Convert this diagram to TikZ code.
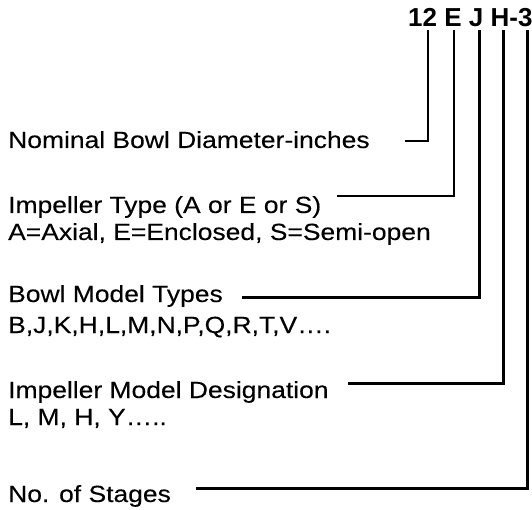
\documentclass[tikz,border=0pt]{standalone}
\usepackage{fontspec}
\setmainfont{Liberation Sans}
\newfontfamily\lblfont[FakeStretch=1.13, FakeBold=0.2]{Liberation Sans}
\usetikzlibrary{positioning}

\begin{document}
\begin{tikzpicture}[
  x=1pt, y=-1pt,
  lbl/.style={font=\lblfont\fontsize{23.4}{27}\selectfont, inner sep=0pt, anchor=base west},
  code/.style={font=\bfseries\fontsize{26}{30}\selectfont, inner sep=0pt, anchor=base west},
  lead/.style={line width=3pt},
  leadthin/.style={line width=2pt},
]
\useasboundingbox (0,0) rectangle (532,510);

% model code
\node[code] (code) at (408,26.5) {12 E J H-3};

% descriptions
\node[lbl] (dia) at (8,148) {Nominal Bowl Diameter-inches};
\node[lbl] (imp) at (8,213) {Impeller Type (A or E or S)};
\node[lbl, below=27pt of imp.base west, anchor=base west] (impkey) {A=Axial, E=Enclosed, S=Semi-open};
\node[lbl] (bowl) at (8,302) {Bowl Model Types};
\node[lbl, below=31pt of bowl.base west, anchor=base west] (bowlkey) {B,J,K,H,L,M,N,P,Q,R,T,V\dots.};
\node[lbl] (des) at (8,398) {Impeller Model Designation};
\node[lbl, below=27pt of des.base west, anchor=base west] (deskey) {L, M, H, Y\dots..};
\node[lbl] (stg) at (8,502) {No. of Stages};

% leader lines from the code down to each description
\coordinate (t12) at (428,30);  \coordinate (e12) at (405,141);
\coordinate (tE)  at (454,30);  \coordinate (eE)  at (337,196);
\coordinate (tJ)  at (479,30);  \coordinate (eJ)  at (242,297);
\coordinate (tH)  at (503,30);  \coordinate (eH)  at (348,383);
\coordinate (t3)  at (527,30);  \coordinate (e3)  at (196,488);

\foreach \a/\b in {t12/e12, tE/eE}
  \draw[leadthin] (\a) |- (\b);
\foreach \a/\b in {tJ/eJ, tH/eH, t3/e3}
  \draw[lead] (\a) |- (\b);
\end{tikzpicture}
\end{document}
